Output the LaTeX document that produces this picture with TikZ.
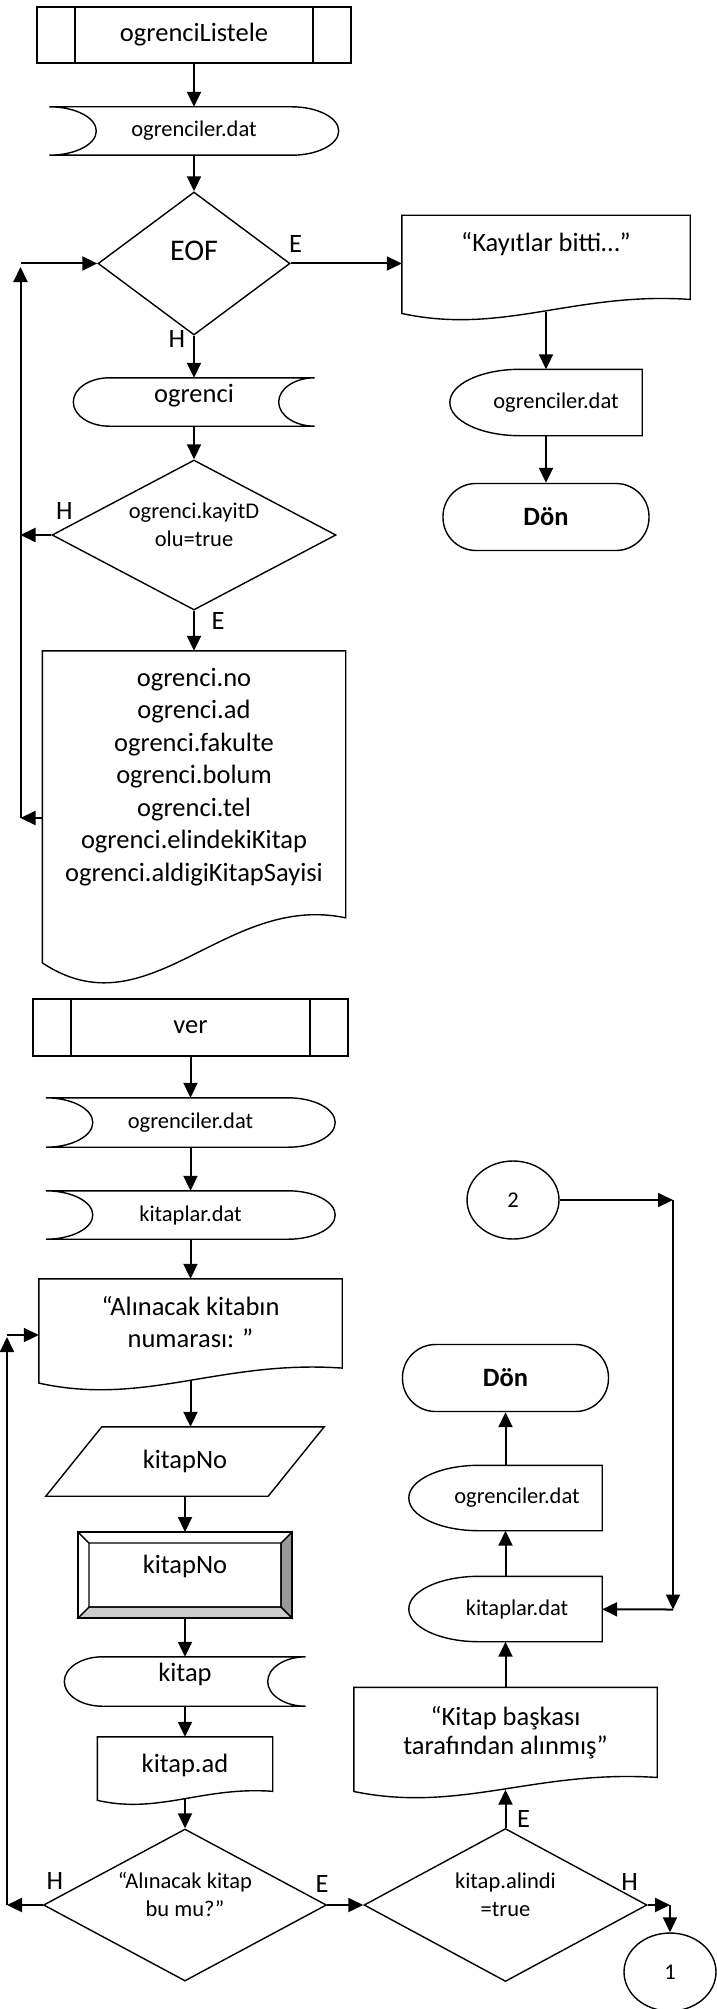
\documentclass[tikz,border=0pt]{standalone}
\usepackage{fontspec}
\setmainfont{Carlito}
\usepackage{tikz}
\usetikzlibrary{arrows.meta,calc,positioning,shapes.geometric}

\begin{document}
\begin{tikzpicture}[%
    x=1pt, y=1pt,
    >={Triangle[length=15pt,width=14pt]},
    on grid,
    outl/.style={line width=1.4pt},
    flow/.style={line width=2pt, ->},
    txtbig/.style={font=\fontsize{26.5}{32.5}\selectfont},
    txtsmall/.style={font=\fontsize{22.5}{28}\selectfont},
    lbl/.style={font=\fontsize{26.5}{30}\selectfont, inner sep=0pt},
    subproc/.style={draw, outl, rectangle,
        path picture={\draw[outl]
            ([xshift=#1]path picture bounding box.north west) -- ([xshift=#1]path picture bounding box.south west)
            ([xshift=-#1]path picture bounding box.north east) -- ([xshift=-#1]path picture bounding box.south east);}},
    stored/.style={inner sep=0pt,
        append after command={\pgfextra{\pgfinterruptpath
            \draw[outl] (\tikzlastnode.north west)
                .. controls ([xshift=0.552*#1]\tikzlastnode.north west)
                and ($(\tikzlastnode.west)!0.552!(\tikzlastnode.north west)+(#1,0)$)
                .. ([xshift=#1]\tikzlastnode.west)
                .. controls ($(\tikzlastnode.west)!0.552!(\tikzlastnode.south west)+(#1,0)$)
                and ([xshift=0.552*#1]\tikzlastnode.south west)
                .. (\tikzlastnode.south west) -- ([xshift=-#1]\tikzlastnode.south east)
                .. controls ([xshift=-0.448*#1]\tikzlastnode.south east)
                and ($(\tikzlastnode.east)!0.552!(\tikzlastnode.south east)$)
                .. (\tikzlastnode.east)
                .. controls ($(\tikzlastnode.east)!0.552!(\tikzlastnode.north east)$)
                and ([xshift=-0.448*#1]\tikzlastnode.north east)
                .. ([xshift=-#1]\tikzlastnode.north east) -- cycle;
        \endpgfinterruptpath}}},
    rstored/.style={inner sep=0pt,
        append after command={\pgfextra{\pgfinterruptpath
            \draw[outl] ([xshift=#1]\tikzlastnode.north west) -- (\tikzlastnode.north east)
                .. controls ([xshift=-0.552*#1]\tikzlastnode.north east)
                and ($(\tikzlastnode.east)!0.552!(\tikzlastnode.north east)+(-#1,0)$)
                .. ([xshift=-#1]\tikzlastnode.east)
                .. controls ($(\tikzlastnode.east)!0.552!(\tikzlastnode.south east)+(-#1,0)$)
                and ([xshift=-0.552*#1]\tikzlastnode.south east)
                .. (\tikzlastnode.south east) -- ([xshift=#1]\tikzlastnode.south west)
                .. controls ([xshift=0.448*#1]\tikzlastnode.south west)
                and ($(\tikzlastnode.west)!0.552!(\tikzlastnode.south west)$)
                .. (\tikzlastnode.west)
                .. controls ($(\tikzlastnode.west)!0.552!(\tikzlastnode.north west)$)
                and ([xshift=0.448*#1]\tikzlastnode.north west)
                .. ([xshift=#1]\tikzlastnode.north west) -- cycle;
        \endpgfinterruptpath}}},
    halfell/.style={inner sep=0pt,
        append after command={\pgfextra{\pgfinterruptpath
            \draw[outl] ([xshift=#1]\tikzlastnode.north west) -- (\tikzlastnode.north east)
                -- (\tikzlastnode.south east) -- ([xshift=#1]\tikzlastnode.south west)
                .. controls ([xshift=0.448*#1]\tikzlastnode.south west)
                and ($(\tikzlastnode.west)!0.552!(\tikzlastnode.south west)$)
                .. (\tikzlastnode.west)
                .. controls ($(\tikzlastnode.west)!0.552!(\tikzlastnode.north west)$)
                and ([xshift=0.448*#1]\tikzlastnode.north west)
                .. ([xshift=#1]\tikzlastnode.north west) -- cycle;
        \endpgfinterruptpath}}},
    docu/.style={inner xsep=0pt, inner ysep=0pt,
        append after command={\pgfextra{\pgfinterruptpath
            \draw[outl] ([yshift=-0.125*#1]\tikzlastnode.south west) -- (\tikzlastnode.north west)
                -- (\tikzlastnode.north east) -- ([yshift=0.875*#1]\tikzlastnode.south east)
                .. controls ($(\tikzlastnode.south west)!0.6!(\tikzlastnode.south east)+(0,1.445*#1)$)
                and ($(\tikzlastnode.south west)!0.35!(\tikzlastnode.south east)+(0,-1.695*#1)$)
                .. ([yshift=-0.125*#1]\tikzlastnode.south west) -- cycle;
        \endpgfinterruptpath}}},
    para/.style={inner sep=0pt,
        append after command={\pgfextra{\pgfinterruptpath
            \draw[outl] (\tikzlastnode.south west) -- ([xshift=#1]\tikzlastnode.north west)
                -- (\tikzlastnode.north east) -- ([xshift=-#1]\tikzlastnode.south east) -- cycle;
        \endpgfinterruptpath}}},
    bevel/.style={draw, outl, rectangle, outer sep=0pt,
        append after command={\pgfextra{\pgfinterruptpath
            \filldraw[outl, fill=black!40] (\tikzlastnode.north east) -- (\tikzlastnode.south east)
                -- ([shift={(-#1,#1)}]\tikzlastnode.south east) -- ([shift={(-#1,-#1)}]\tikzlastnode.north east) -- cycle;
            \filldraw[outl, fill=black!20] (\tikzlastnode.south west) -- (\tikzlastnode.south east)
                -- ([shift={(-#1,#1)}]\tikzlastnode.south east) -- ([shift={(#1,#1)}]\tikzlastnode.south west) -- cycle;
            \draw[outl] ([shift={(#1,-#1)}]\tikzlastnode.north west) rectangle ([shift={(-#1,#1)}]\tikzlastnode.south east)
                (\tikzlastnode.north west) -- ([shift={(#1,-#1)}]\tikzlastnode.north west);
        \endpgfinterruptpath}}},
    dec/.style={draw, outl, diamond, aspect=1.9, inner sep=0pt},
    dectext/.style={txtsmall, text height=18pt, text depth=52pt},
    term/.style={draw, outl, rectangle, rounded corners=33, minimum width=206, minimum height=67,
        font=\bfseries\fontsize{26.5}{32.5}\selectfont},
    conn/.style={draw, outl, ellipse, inner sep=0pt, minimum width=92, minimum height=78, txtsmall}
    ]

    \useasboundingbox (0,0) rectangle (716,-2009);

    % ogrenciListele
    \node[subproc=38, txtbig, minimum width=314, minimum height=56] (lst) at (194,-35) {ogrenciListele};
    \node[stored=47, txtsmall, minimum width=289, minimum height=48] (dat1) [node distance=96pt, below of=lst] {ogrenciler.dat};
    \node[dec, font=\fontsize{30}{36}\selectfont, minimum width=192, minimum height=143, text depth=26pt] (eof) [node distance=132.5pt, below of=dat1] {EOF};
    \node[rstored=36, txtbig, minimum width=241, minimum height=48, text depth=18pt] (ogr) [node distance=138.5pt, below of=eof] {ogrenci};
    \node[dec, dectext, minimum width=284, minimum height=150] (dia2) [node distance=133pt, below of=ogr]
        {\parbox[t]{140pt}{\centering ogrenci.kayitD\\olu=true}};
    \node[docu=45, txtbig, minimum width=303, text height=35pt, text depth=271pt] (doc) [node distance=269pt, below of=dia2]
        {\parbox[t]{290pt}{\centering ogrenci.no\\ogrenci.ad\\ogrenci.fakulte\\ogrenci.bolum\\ogrenci.tel\\ogrenci.elindekiKitap\\ogrenci.aldigiKitapSayisi}};

    \node[docu=14, txtbig, minimum width=288, text height=36pt, text depth=60pt] (kay) [node distance=352pt, right of=eof] {“Kayıtlar bitti…”};
    \node[halfell=70, txtsmall, minimum width=192, minimum height=66] (rdat) [node distance=139pt, below of=kay] {\hspace*{20pt}ogrenciler.dat};
    \node[term] (don) [node distance=114.5pt, below of=rdat] {Dön};

    \path[flow] (lst) edge (dat1)
                (dat1) edge (eof)
                (eof) edge (kay)
                (eof) edge (ogr)
                (ogr) edge (dia2)
                (dia2) edge (doc)
                (kay) edge (rdat)
                (rdat) edge (don);

    \coordinate (lp1b) at (20.5,-818);
    \coordinate (lp1t) at (20.5,-267);
    \draw[flow] (doc.west |- lp1b) -- (lp1b);
    \draw[flow] (lp1b) -- (lp1t);
    \draw[flow] (lp1t |- eof.west) -- (eof.west);
    \draw[flow] (dia2.west) -- (dia2.west -| lp1b);

    \node[lbl] (eofE) at ([shift={(5,20)}]eof.east) {E};
    \node[lbl] (eofH) at ([shift={(-17,-3)}]eof.south) {H};
    \node[lbl] (dia2H) at ([shift={(13,24)}]dia2.west) {H};
    \node[lbl] (dia2E) at ([shift={(24,-10)}]dia2.south) {E};

    % ver
    \node[subproc=38, txtbig, minimum width=315, minimum height=57] (ver) at (190.5,-1027.5) {ver};
    \node[stored=47, txtsmall, minimum width=289, minimum height=49] (dat2) [node distance=95pt, below of=ver] {ogrenciler.dat};
    \node[stored=47, txtsmall, minimum width=289, minimum height=48] (kit) [node distance=92.5pt, below of=dat2] {kitaplar.dat};
    \node[docu=15, txtbig, minimum width=303, text height=36pt, text depth=66pt] (alin) [node distance=115pt, below of=kit]
        {\parbox[t]{290pt}{\centering “Alınacak kitabın\\numarası: ”}};
    \node[para=56, txtbig, minimum width=278, minimum height=69] (kno) [node distance=131.5pt, below of=alin, xshift=-5.5pt] {kitapNo};
    \node[bevel=11, txtbig, minimum width=214, minimum height=86, text depth=22pt] (bev) [node distance=113.5pt, below of=kno] {kitapNo};
    \node[rstored=38, txtbig, minimum width=241, minimum height=49, text depth=18pt] (kitap) [node distance=106.5pt, below of=bev] {kitap};
    \node[docu=9, txtbig, minimum width=175, text height=35pt, text depth=27pt] (kad) [node distance=86.5pt, below of=kitap] {kitap.ad};
    \node[dec, dectext, minimum width=282, minimum height=152] (dia3) [node distance=137pt, below of=kad]
        {\parbox[t]{150pt}{\centering “Alınacak kitap\\bu mu?”}};
    \node[dec, dectext, minimum width=283, minimum height=153] (dia4) [node distance=320.5pt, right of=dia3]
        {\parbox[t]{140pt}{\centering kitap.alindi\\=true}};
    \node[docu=14, txtbig, minimum width=303, text height=38pt, text depth=64pt] (bas) [node distance=166.5pt, above of=dia4]
        {\parbox[t]{290pt}{\centering\baselineskip=29pt “Kitap başkası\\tarafından alınmış”}};
    \node[halfell=70, txtsmall, minimum width=193, minimum height=65] (kit2) [node distance=129.5pt, above of=bas] {\hspace*{23pt}kitaplar.dat};
    \node[halfell=70, txtsmall, minimum width=193, minimum height=65] (rdat2) [node distance=111pt, above of=kit2] {\hspace*{23pt}ogrenciler.dat};
    \node[term] (don2) [node distance=120pt, above of=rdat2] {Dön};
    \node[conn] (c2) at (513,-1200) {2};
    \node[conn] (c1) at (670,-1972) {1};

    \path[flow] (ver) edge (dat2)
                (dat2) edge (kit)
                (kit) edge (alin)
                (kno) edge (bev)
                (bev) edge (kitap)
                (kitap) edge (kad)
                (kad) edge (dia3)
                (dia3) edge (dia4)
                (dia4) edge (bas)
                (bas) edge (kit2)
                (kit2) edge (rdat2)
                (rdat2) edge (don2);
    \draw[flow] (alin.south) -- (alin.south |- kno.north);

    \coordinate (lp2b) at (7,-1905);
    \coordinate (lp2t) at (7,-1337);
    \coordinate (lp2r) at (7,-1335);
    \draw[flow] (dia3.west) -- (lp2b);
    \draw[flow] (lp2b) -- (lp2t);
    \draw[flow] (lp2r) -- (lp2r -| alin.west);

    \coordinate (rt2) at (673,-1200);
    \coordinate (rb2) at (673,-1609.5);
    \coordinate (rt1) at (c1.north |- dia4.east);
    \draw[flow] (c2) -- (rt2);
    \draw[flow] (rt2) -- (rb2);
    \draw[flow] (rb2) -- (kit2);
    \draw[flow] (dia4) -- (rt1);
    \draw[flow] (rt1) -- (c1);

    \node[lbl] (dia3H) at ([shift={(12,24)}]dia3.west) {H};
    \node[lbl] (dia3E) at ([shift={(-5,21)}]dia3.east) {E};
    \node[lbl] (dia4E) at ([shift={(18,9)}]dia4.north) {E};
    \node[lbl] (dia4H) at ([shift={(-18,23)}]dia4.east) {H};

\end{tikzpicture}
\end{document}
